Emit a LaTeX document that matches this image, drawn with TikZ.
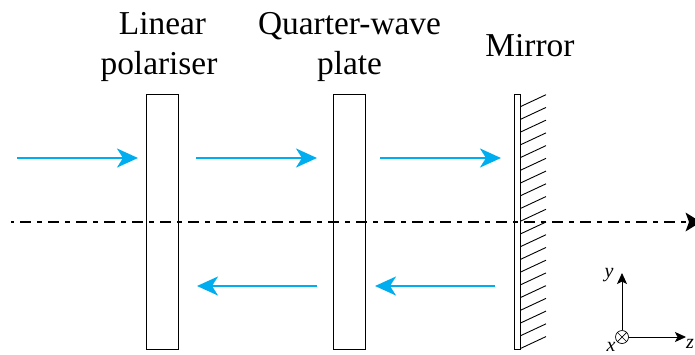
\documentclass[tikz,border=0pt]{standalone}
\usepackage{fontspec}
\setmainfont{Liberation Serif}
\usetikzlibrary{arrows.meta}
\definecolor{beam}{RGB}{0,174,239}
\tikzset{
  x=1pt,y=-1pt,
  plate/.style={draw=black,line width=0.9pt,fill=white,inner sep=0pt,minimum width=32pt,minimum height=254.5pt},
  mirrorbar/.style={draw=black,line width=0.9pt,fill=white,inner sep=0pt,minimum width=6pt,minimum height=254.5pt},
  beamline/.style={draw=beam,line width=2pt,-{Stealth[length=21pt,width=19pt,inset=6pt]}},
  title/.style={font=\fontsize{33.4}{40}\selectfont,align=center,inner sep=0pt},
  hatchline/.style={line width=0.9pt},
  axisline/.style={line width=0.9pt,-{Stealth[length=11pt,width=10pt,inset=2.5pt]}},
  axislabel/.style={font=\fontsize{20}{20}\selectfont\itshape,inner sep=0pt},
  opticaxisb/.style={line width=1.5pt,dash pattern=on 11pt off 6pt on 5pt off 6pt},
}
\begin{document}
\begin{tikzpicture}
\useasboundingbox (0,0) rectangle (695,354);
\node[plate] (pol) at (162,221.7) {};
\node[plate] (qwp) at (349.5,221.7) {};
\node[mirrorbar] (mir) at (517.5,221.7) {};
\foreach \i in {0,...,19}{
  \coordinate (ha\i) at (520.5,106.6+12.73*\i);
  \coordinate (hb\i) at (546,94.7+12.73*\i);
  \draw[hatchline] (ha\i) -- (hb\i);
}
\coordinate (as) at (11,222);
\coordinate (asb) at (20,222);
\coordinate (ae) at (695,222);
\draw[line width=1.5pt] (as) -- +(3,0);
\draw[opticaxisb] (asb) -- (ae);
\fill[black] (685.5,212.5) -- (696,219) -- (696,225) -- (685.5,231.5) -- (689,222) -- cycle;
\node[title] (t1) at (159,47) {\hspace{7pt}Linear\\polariser};
\node[title] (t2) at (349.5,47) {Quarter-wave\\plate};
\node[title] (t3) at (530,46) {Mirror};
\coordinate (a1s) at (17,158); \coordinate (a1e) at (138,158);
\coordinate (a2s) at (196,158); \coordinate (a2e) at (317,158);
\coordinate (a3s) at (380,158); \coordinate (a3e) at (501,158);
\coordinate (b1s) at (317,286); \coordinate (b1e) at (197,286);
\coordinate (b2s) at (495,286); \coordinate (b2e) at (375,286);
\draw[beamline] (a1s) -- (a1e);
\draw[beamline] (a2s) -- (a2e);
\draw[beamline] (a3s) -- (a3e);
\draw[beamline] (b1s) -- (b1e);
\draw[beamline] (b2s) -- (b2e);
\node[draw,circle,line width=0.7pt,minimum size=13pt,inner sep=0pt] (o) at (622,337) {};
\draw[line width=0.7pt] (o.north west) -- (o.south east) (o.north east) -- (o.south west);
\coordinate (ye) at (622,273);
\coordinate (ze) at (686,337);
\draw[axisline] (o) -- (ye);
\draw[axisline] (o) -- (ze);
\node[axislabel] (ly) at (609,275) {y};
\node[axislabel] (lz) at (690,344) {z};
\node[axislabel] (lx) at (611,347) {x};
\end{tikzpicture}
\end{document}
